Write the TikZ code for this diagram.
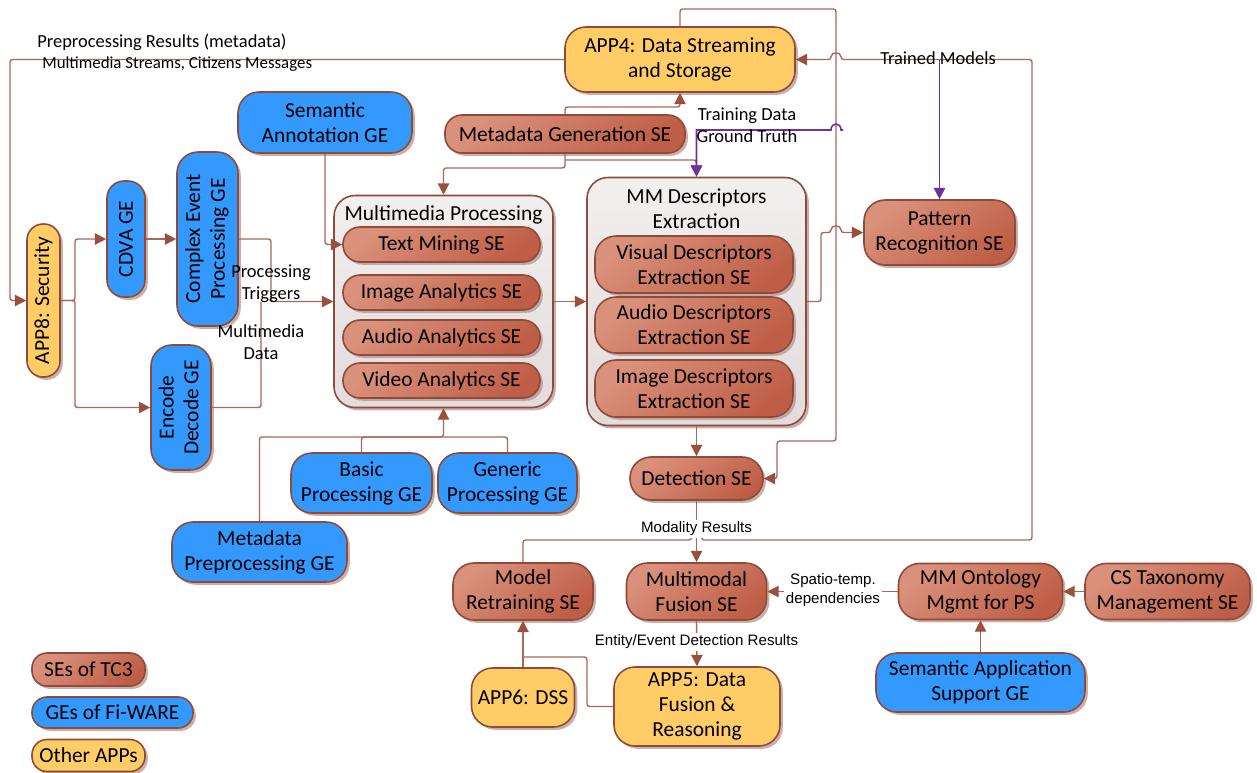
\documentclass[tikz,border=0pt]{standalone}
\usepackage{fontspec}
\setmainfont{Carlito}
\newfontfamily\arialfont{Liberation Sans}
\usetikzlibrary{arrows.meta,shadows}
\newlength\pxu \setlength\pxu{0.02cm}
\definecolor{seLight}{HTML}{DA917B}
\definecolor{seDark}{HTML}{BF5E47}
\definecolor{edgeC}{HTML}{8E4A3B}
\definecolor{geBlue}{HTML}{3399FF}
\definecolor{appYellow}{HTML}{FFCC66}
\definecolor{grpLight}{HTML}{F2EFEF}
\definecolor{grpDark}{HTML}{E2DCDC}
\definecolor{wireC}{HTML}{A8675A}
\definecolor{tipC}{HTML}{99503F}
\definecolor{shadowC}{HTML}{B58E86}
\definecolor{violetC}{HTML}{7030A0}

\tikzset{
  box/.style={draw=edgeC, line width=0.9pt, rounded corners=0.34cm, align=center,
    inner sep=1pt, text=black, font=\fontsize{12.2}{14.2}\selectfont,
    drop shadow={shadow xshift=1.6pt, shadow yshift=-1.6pt, fill=shadowC, opacity=0.7}},
  sebox/.style={box, top color=seLight, bottom color=seDark, shading angle=40},
  gebox/.style={box, fill=geBlue},
  appbox/.style={box, fill=appYellow},
  grpbox/.style={box, top color=grpLight, bottom color=grpDark, rounded corners=0.42cm},
  bigr/.style={rounded corners=0.42cm},
  sz/.style 2 args={minimum width=#1\pxu, minimum height=#2\pxu},
  title/.style={font=\fontsize{12.2}{14.2}\selectfont, align=center, inner sep=0pt},
  wire/.style={draw=wireC, line width=0.8pt, rounded corners=1.5pt},
  conn/.style={wire, -{Triangle[length=6.5pt, width=6.5pt, color=tipC]}},
  vwire/.style={draw=violetC, line width=0.9pt},
  vconn/.style={vwire, -{Triangle[length=6.5pt, width=6.5pt, color=violetC]}},
  lbl/.style={font=\fontsize{10.5}{12.5}\selectfont, align=center, inner sep=0pt},
  albl/.style={font=\arialfont\fontsize{8.6}{11}\selectfont, align=center, inner sep=1pt, fill=white},
}

\begin{document}
\begin{tikzpicture}[x=0.02cm, y=-0.02cm]
\useasboundingbox (0,0) rectangle (1257,772);

% ---------- groups ----------
\node[grpbox, sz={219}{212}] (mmproc) at (443.5,301.5) {};
\node[title] (mmproctitle) at (443.5,215) {Multimedia Processing};
\node[grpbox, sz={219}{248}] (mmdesc) at (696.5,301.5) {};
\node[title] (mmdesctitle) at (696.5,208.5) {MM Descriptors\\Extraction};

% ---------- nodes ----------
\node[appbox, bigr, sz={230}{65}] (app4) at (680,59.5) {APP4: Data Streaming\\and Storage};
\node[gebox, bigr, sz={174}{61}] (semann) at (325,122.5) {Semantic\\Annotation GE};
\node[sebox, sz={240}{38}] (metagen) at (565,134) {Metadata Generation SE};
\node[gebox, sz={38}{116}] (cdva) at (126,239) {\rotatebox{90}{CDVA GE}};
\node[gebox, bigr, sz={61}{174}] (cep) at (207.5,239)
  {\rotatebox{90}{\begin{tabular}{@{}c@{}}Complex Event\\Processing GE\end{tabular}}};
\node[appbox, rounded corners=0.32cm, sz={33}{153}] (app8) at (43.5,300.5) {\rotatebox{90}{APP8: Security}};
\node[gebox, bigr, sz={60}{125}] (encdec) at (181,407.5)
  {\rotatebox{90}{\begin{tabular}{@{}c@{}}Encode\\Decode GE\end{tabular}}};

\node[sebox, sz={197}{35}] (textmin) at (441.5,244.5) {Text Mining SE};
\node[sebox, sz={197}{35}] (imgana) at (441.5,292.5) {Image Analytics SE};
\node[sebox, sz={197}{35}] (audana) at (441.5,337.5) {Audio Analytics SE};
\node[sebox, sz={197}{35}] (vidana) at (441.5,380.5) {Video Analytics SE};

\node[sebox, bigr, sz={198}{57}] (visdesc) at (694,264.5) {Visual Descriptors\\Extraction SE};
\node[sebox, bigr, sz={198}{56}] (auddesc) at (694,325) {Audio Descriptors\\Extraction SE};
\node[sebox, bigr, sz={198}{57}] (imgdesc) at (694,388.5) {Image Descriptors\\Extraction SE};

\node[sebox, bigr, sz={151}{65}] (patrec) at (939.5,232.5) {Pattern\\Recognition SE};
\node[sebox, bigr, sz={133}{43}] (detect) at (696.5,478.5) {Detection SE};

\node[gebox, bigr, sz={141}{60}] (basic) at (361.5,483) {Basic\\Processing GE};
\node[gebox, bigr, sz={139}{60}] (generic) at (507.5,483) {Generic\\Processing GE};
\node[gebox, bigr, sz={175}{60}] (metapre) at (259.5,552) {Metadata\\Preprocessing GE};

\node[sebox, bigr, sz={140}{57}] (modelret) at (523,591.5) {Model\\Retraining SE};
\node[sebox, bigr, sz={140}{57}] (mmfusion) at (696.5,591.5) {Multimodal\\Fusion SE};
\node[sebox, bigr, sz={164}{56}] (onto) at (980.5,591.5) {MM Ontology\\Mgmt for PS};
\node[sebox, bigr, sz={165}{56}] (cstax) at (1167.5,591.5) {CS Taxonomy\\Management SE};
\node[gebox, bigr, sz={209}{59}] (semapp) at (980.5,682.5) {Semantic Application\\Support GE};
\node[appbox, bigr, sz={103}{59}] (app6) at (523,697.5) {APP6: DSS};
\node[appbox, bigr, sz={166}{79}] (app5) at (697,706.5) {APP5: Data\\Fusion \&\\Reasoning};

% ---------- legend ----------
\node[sebox, rounded corners=0.3cm, sz={113}{33}] (legse) at (88.5,669.5) {SEs of TC3};
\node[gebox, rounded corners=0.3cm, sz={161}{31}] (legge) at (112.5,712.5) {GEs of Fi-WARE};
\node[appbox, rounded corners=0.3cm, sz={113}{32}] (legapp) at (88.5,755.5) {Other APPs};

% ---------- helper points ----------
\coordinate (mgsplit) at (565,160);
\coordinate (mergept) at (443.5,437);
\coordinate (tdsrc) at (843,130);
\coordinate (tmsrc) at (939.5,59.5);

% ---------- connectors ----------
\draw[conn] (app4.west) -- (10,59.5) -- (10,300.5) -- (app8.west);
\draw[conn] (app8.east) -- (75,300.5) |- (cdva.west);
\draw[conn] (app8.east) -- (75,300.5) |- (encdec.west);
\draw[conn] (cdva.east) -- (cep.west);
\draw[conn] (cep.east) -- (271,239) |- (mmproc.west);
\draw[wire] (encdec.east) -- (261,407.5) -- (261,301.5);
\draw[conn] (semann.south) |- (textmin.west);
\draw[conn] (metagen.north) -- (565,107) -| (app4.south);
\draw[conn] (metagen.south) -- (565,168) -| (mmproc.north);
\draw[conn] (mgsplit) -| (mmdesc.north);
\draw[conn] (mmproc.east) -- (mmdesc.west);
\draw[conn] (mmdesc.south) -- (detect.north);
\draw[conn] (mmdesc.east) -- (821,301.5) -- (821,232.5) -- (831,232.5)
  .. controls (831,224.5) and (841,224.5) .. (841,232.5) -- (patrec.west);
\draw[conn] (app4.north) -- (680,9) -- (836,9) -- (836,441) -- (777,441) |- (detect.east);
\draw[conn] (modelret.north) -- (523,540) -- (691.5,540)
  .. controls (691.5,532) and (701.5,532) .. (701.5,540) -- (1032,540) -- (1032,59.5) -- (841,59.5)
  .. controls (841,51.5) and (831,51.5) .. (831,59.5) -- (app4.east);
\draw[vconn] (tdsrc) -- (841,130) .. controls (841,122) and (831,122) .. (831,130)
  -- (696.5,130) -- (mmdesc.north);
\draw[vconn] (tmsrc) -- (patrec.north);
\draw[conn] (metapre.north) |- (mergept) -- (mmproc.south);
\draw[wire] (basic.north) |- (mergept);
\draw[wire] (generic.north) |- (mergept);
\draw[conn] (detect.south) -- (mmfusion.north);
\draw[conn] (mmfusion.south) -- (app5.north);
\draw[conn] (onto.west) -- (mmfusion.east);
\draw[conn] (cstax.west) -- (onto.east);
\draw[conn] (semapp.north) -- (onto.south);
\draw[conn] (app6.north) -- (modelret.south);
\draw[wire] (app5.west) -- (587,706.5) |- (523,657);

% ---------- labels ----------
\node[lbl, anchor=west] (lpre) at (37,42) {Preprocessing Results (metadata)};
\node[lbl, anchor=west, font=\fontsize{9.6}{12}\selectfont] (lmms) at (42,64) {Multimedia Streams, Citizens Messages};
\node[lbl] (ltrig) at (271,284) {Processing\\Triggers};
\node[lbl] (lmmd) at (261,342) {Multimedia\\Data};
\node[lbl] (ltrain) at (747,125) {Training Data\\Ground Truth};
\node[lbl] (ltm) at (938,58) {Trained Models};
\node[albl] (lmod) at (696.5,529) {Modality Results};
\node[albl] (lent) at (696.5,642) {Entity/Event Detection Results};
\node[albl] (lspt) at (833,590) {Spatio-temp.\\dependencies};
\end{tikzpicture}
\end{document}
